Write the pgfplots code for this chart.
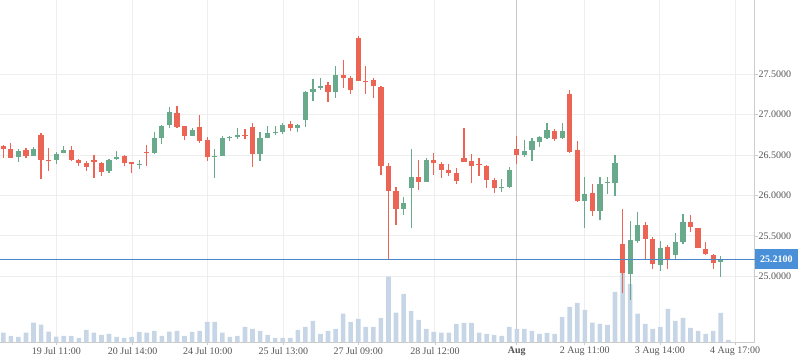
\documentclass[border=0pt]{standalone}
\usepackage{pgfplots}
\usepackage{pgfplotstable}
\pgfplotsset{compat=1.18}
\usepackage{fontspec}
\setmainfont{Liberation Serif}
\definecolor{cred}{HTML}{EC6453}
\definecolor{cgreen}{HTML}{6AAA8C}
\definecolor{cvol}{HTML}{C6D6E7}
\definecolor{cline}{HTML}{4A86C8}
\definecolor{cbox}{HTML}{4A90D9}
\definecolor{gridc}{HTML}{EEEEEE}
\definecolor{axisc}{HTML}{CCCCCC}
\definecolor{labc}{HTML}{555555}

\pgfplotstableread{
i O H L C
2 26.481 26.572 26.419 26.551
4 26.493 26.601 26.493 26.576
7 26.444 26.539 26.394 26.514
8 26.530 26.613 26.522 26.563
14 26.308 26.452 26.283 26.444
15 26.452 26.551 26.440 26.477
18 26.382 26.440 26.332 26.394
20 26.526 26.786 26.514 26.712
21 26.716 26.877 26.642 26.860
22 26.873 27.096 26.840 27.034
25 26.741 26.836 26.741 26.811
28 26.476 26.575 26.216 26.489
29 26.489 26.736 26.489 26.711
30 26.716 26.736 26.678 26.728
31 26.724 26.835 26.699 26.749
34 26.513 26.786 26.427 26.711
35 26.711 26.860 26.711 26.773
36 26.773 26.860 26.749 26.786
37 26.786 26.897 26.761 26.872
39 26.835 26.885 26.786 26.872
40 26.934 27.293 26.848 27.281
41 27.281 27.442 27.169 27.318
42 27.330 27.454 27.305 27.355
44 27.281 27.602 27.206 27.491
53 25.837 25.982 25.759 25.908
54 26.093 26.576 25.602 26.229
56 26.167 26.464 26.167 26.440
66 26.093 26.205 26.044 26.106
67 26.106 26.353 26.093 26.316
69 26.502 26.687 26.477 26.551
70 26.563 26.712 26.427 26.675
71 26.662 26.737 26.601 26.724
72 26.712 26.898 26.700 26.811
74 26.712 26.898 26.700 26.799
77 25.936 26.229 25.602 26.018
79 25.812 26.229 25.701 26.142
80 26.155 26.229 26.022 26.167
81 26.158 26.501 25.998 26.402
83 25.028 25.684 24.707 25.449
84 25.437 25.795 25.412 25.635
87 25.140 25.437 25.065 25.350
89 25.263 25.536 25.214 25.424
90 25.424 25.771 25.399 25.672
95 25.177 25.251 24.991 25.201
}\updata

\pgfplotstableread{
i O H L C
0 26.613 26.625 26.464 26.580
1 26.576 26.650 26.469 26.469
3 26.563 26.588 26.464 26.493
5 26.749 26.774 26.205 26.440
6 26.440 26.588 26.308 26.427
9 26.563 26.613 26.427 26.440
10 26.444 26.456 26.370 26.407
11 26.403 26.427 26.308 26.357
12 26.444 26.502 26.217 26.419
13 26.403 26.415 26.246 26.295
16 26.493 26.502 26.365 26.407
17 26.419 26.419 26.283 26.386
19 26.543 26.625 26.370 26.530
23 27.021 27.108 26.840 26.848
24 26.860 26.860 26.687 26.741
26 26.848 26.996 26.654 26.674
27 26.687 26.720 26.427 26.480
32 26.749 26.823 26.699 26.736
33 26.848 26.897 26.353 26.513
38 26.885 26.922 26.798 26.835
43 27.367 27.404 27.157 27.281
45 27.491 27.677 27.330 27.454
46 27.454 27.479 27.256 27.305
47 27.949 27.974 27.417 27.417
48 27.417 27.602 27.256 27.404
49 27.429 27.454 27.206 27.355
50 27.343 27.355 26.254 26.365
51 26.365 26.402 25.210 26.056
52 26.056 26.106 25.635 25.837
55 26.229 26.440 26.068 26.167
57 26.440 26.526 26.254 26.403
58 26.390 26.415 26.217 26.316
59 26.316 26.390 26.242 26.279
60 26.279 26.341 26.143 26.180
61 26.464 26.836 26.415 26.415
62 26.427 26.514 26.155 26.365
63 26.390 26.464 26.242 26.378
64 26.365 26.378 26.093 26.192
65 26.192 26.217 26.031 26.093
68 26.576 26.737 26.390 26.502
73 26.799 26.823 26.675 26.700
75 27.256 27.306 26.526 26.539
76 26.563 26.675 25.920 25.932
78 26.031 26.142 25.750 25.812
82 25.400 25.833 24.793 25.045
85 25.635 25.672 25.214 25.461
86 25.461 25.486 25.090 25.152
88 25.362 25.387 25.090 25.214
91 25.672 25.758 25.548 25.610
92 25.597 25.597 25.350 25.350
93 25.338 25.424 25.263 25.276
94 25.263 25.276 25.090 25.164
96 25.216 25.216 25.204 25.204
}\downdata

\pgfplotstableread{
i v
0 9.3
1 6
2 5
3 9.3
4 19.3
5 17.3
6 10.3
7 5.3
8 6
9 6
10 4
11 12
12 9.3
13 7
14 8
15 5
16 4
17 5
18 10
19 9.3
20 11
21 6
22 10.3
23 11
24 6
25 10
26 11
27 20
28 20
29 9.3
30 5
31 6
32 15
33 13
34 11
35 7
36 4
37 4
38 4
39 12
40 15
41 21
42 8
43 11
44 13
45 28.3
46 20
47 23
48 15
49 15
50 24
51 65.3
52 29.3
53 48
54 31
55 22
56 13
57 10
58 9.3
59 9.3
60 18
61 19
62 19
63 9.3
64 8
65 7
66 6
67 15
68 13
69 13
70 11
71 8
72 9
73 8
74 25
75 35
76 39
77 32
78 19.3
79 18
80 17
81 50
82 69
83 58
84 28.3
85 18
86 13
87 15
88 33
89 21
90 24
91 14
92 11
93 8
94 11
95 29
96 2
}\voldata

\pgfplotsset{
  common/.style={
    at={(0,0)}, anchor=south west, scale only axis,
    width=754.5bp, height=342bp,
    xmin=-0.437, xmax=99.47,
  },
  lbl/.style={font=\fontsize{10bp}{12bp}\selectfont, text=labc},
  candle/.style 2 args={draw=none, mark=none, forget plot,
    error bars/.cd, y dir=plus, y explicit, error mark=none,
    error bar style={draw=#1, solid, line width=#2}},
}

\begin{document}
\begin{tikzpicture}
% grid, ticks, labels
\begin{axis}[common,
  ymin=24.187, ymax=28.4196,
  axis x line*=bottom, axis y line*=right,
  axis line style={draw=axisc, line width=1bp},
  grid=major, grid style={draw=gridc, line width=1bp},
  tick align=outside, major tick length=3bp,
  tick style={draw=axisc, line width=0.8bp},
  xtick={7.02,17.13,27.07,37.08,47,57.16,77,86.95,96.9},
  xticklabels={19 Jul 11:00,20 Jul 14:00,24 Jul 10:00,25 Jul 13:00,27 Jul 09:00,28 Jul 12:00,2 Aug 11:00,3 Aug 14:00,4 Aug 17:00},
  extra x ticks={67.98},
  extra x tick labels={\textbf{Aug}},
  extra x tick style={grid style={draw=black!22, line width=1bp}},
  ytick={25,25.5,26,26.5,27,27.5},
  /pgf/number format/assume math mode=true,
  /pgf/number format/fixed,
  /pgf/number format/fixed zerofill,
  /pgf/number format/precision=4,
  xticklabel style={lbl, inner sep=2bp},
  yticklabel style={lbl, anchor=west, inner sep=1bp},
]
\end{axis}
% volume
\begin{axis}[common, hide axis, ymin=0, ymax=342]
\addplot[ybar, bar width=4.6bp, fill=cvol, draw=none] table[x=i, y=v] {\voldata};
\end{axis}
% candles
\begin{axis}[common, hide axis, ymin=24.187, ymax=28.4196, clip=false]
\addplot[candle={cgreen}{1.2bp}]
  table[x=i, y=L, y error expr=\thisrow{H}-\thisrow{L}] {\updata};
\addplot[candle={cgreen}{5.2bp}]
  table[x=i, y=O, y error expr=\thisrow{C}-\thisrow{O}] {\updata};
\addplot[candle={cred}{1.2bp}]
  table[x=i, y=L, y error expr=\thisrow{H}-\thisrow{L}] {\downdata};
\addplot[candle={cred}{5.2bp}]
  table[x=i, y=C, y error expr=\thisrow{O}-\thisrow{C}] {\downdata};
\addplot[color=cline, mark=none, line width=1.2bp] coordinates {(-0.437,25.21) (99.47,25.21)};
\node[fill=cbox, text=white, anchor=west, minimum width=43.5bp, minimum height=20bp, inner sep=0pt,
  font=\fontsize{10bp}{12bp}\selectfont\bfseries] at (axis cs:99.47,25.21) {25.2100};
\end{axis}
\pgfresetboundingbox
\useasboundingbox (0,-21bp) rectangle (798bp,342bp);
\end{tikzpicture}
\end{document}
